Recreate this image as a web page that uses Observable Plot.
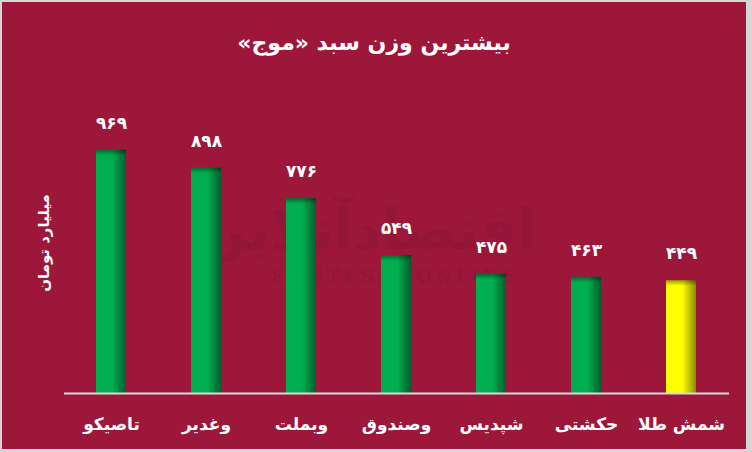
<!DOCTYPE html>
<html>
<head>
<meta charset="utf-8">
<script src="https://cdn.jsdelivr.net/npm/d3@7"></script>
<script src="https://cdn.jsdelivr.net/npm/@observablehq/plot@0.6"></script>
<style>
  html, body { margin: 0; padding: 0; background: #d6d6d6; width: 752px; height: 452px; overflow: hidden; }
  #frame { position: absolute; left: 2px; top: 2px; width: 744px; height: 447px; background: #9d173b; overflow: hidden; font-family: "DejaVu Sans", sans-serif; }
  #title { position: absolute; left: 0; width: 744px; top: 28px; text-align: center; color: #fff; font-weight: bold; font-size: 22px; direction: rtl; }
  #ylab { position: absolute; left: 42px; top: 241px; transform: translate(-50%, -50%) rotate(-90deg); color: #fff; font-weight: bold; font-size: 15px; white-space: nowrap; direction: rtl; }
  #wm1 { position: absolute; left: 178px; top: 198px; width: 375px; text-align: center; color: rgba(0,0,0,0.06); font-weight: bold; font-size: 56px; line-height: 60px; direction: rtl; white-space: nowrap; }
  #wm2 { position: absolute; left: 245px; top: 263px; width: 295px; text-align: center; color: rgba(0,0,0,0.06); font-weight: bold; font-size: 20px; line-height: 22px; letter-spacing: 3px; white-space: nowrap; }
  #chart { position: absolute; left: 0; top: 0; }
</style>
</head>
<body>
<div id="frame">
  <div id="wm1">اقتصادآنلاین</div>
  <div id="wm2">EGHTESADONLINE</div>
  <div id="chart"></div>
  <div id="title">بیشترین وزن سبد «موج»</div>
  <div id="ylab">میلیارد تومان</div>
</div>
<script>
const categories = ["تاصیکو", "وغدیر", "وبملت", "وصندوق", "شپدیس", "حکشتی", "شمش طلا"];
const values = [969, 898, 776, 549, 475, 463, 449];
const kinds = ["stock", "stock", "stock", "stock", "stock", "stock", "gold"];

const fa = n => String(n).replace(/\d/g, d => "۰۱۲۳۴۵۶۷۸۹"[d]);
const data = categories.map((c, i) => ({cat: c, value: values[i], kind: kinds[i], label: fa(values[i])}));

function defs() {
  const g = d3.create("svg:defs");
  const mk = (id, c0, c1) => {
    const lg = g.append("linearGradient").attr("id", id).attr("x1", 0).attr("x2", 1).attr("y1", 0).attr("y2", 0);
    lg.append("stop").attr("offset", "0%").attr("stop-color", c0);
    lg.append("stop").attr("offset", "55%").attr("stop-color", c0);
    lg.append("stop").attr("offset", "100%").attr("stop-color", c1);
  };
  mk("gGreen", "#00ad4f", "#005f2c");
  mk("gGold", "#ffff00", "#8a8a00");
  const sh = g.append("linearGradient").attr("id", "gTop").attr("x1", 0).attr("x2", 0).attr("y1", 0).attr("y2", 1);
  sh.append("stop").attr("offset", "0%").attr("stop-color", "#000").attr("stop-opacity", 0.4);
  sh.append("stop").attr("offset", "100%").attr("stop-color", "#000").attr("stop-opacity", 0);
  return g.node();
}

const chart = Plot.plot({
  width: 744,
  height: 447,
  marginLeft: 62,
  marginRight: 17,
  marginTop: 140,
  marginBottom: 56,
  style: {background: "transparent", fontFamily: "DejaVu Sans, sans-serif", overflow: "visible"},
  x: {domain: categories, paddingInner: 0.684, paddingOuter: 0.342, label: null},
  y: {domain: [0, 1000], axis: null},
  marks: [
    defs,
    Plot.barY(data, {x: "cat", y: "value", fill: d => d.kind === "gold" ? "url(#gGold)" : "url(#gGreen)"}),
    Plot.barY(data, {x: "cat", y1: "value", y2: d => d.value - 22, fill: "url(#gTop)"}),
    Plot.ruleY([0], {stroke: "#d9d9d9", strokeWidth: 2}),
    Plot.text(data, {x: "cat", y: "value", text: "label", dy: -27, fill: "#fff", fontSize: 17, fontWeight: "bold"}),
    Plot.axisX({tickSize: 0, tickPadding: 24, fontSize: 17, fontWeight: "bold", color: "#fff", label: null})
  ]
});
document.getElementById("chart").appendChild(chart);
</script>
</body>
</html>
